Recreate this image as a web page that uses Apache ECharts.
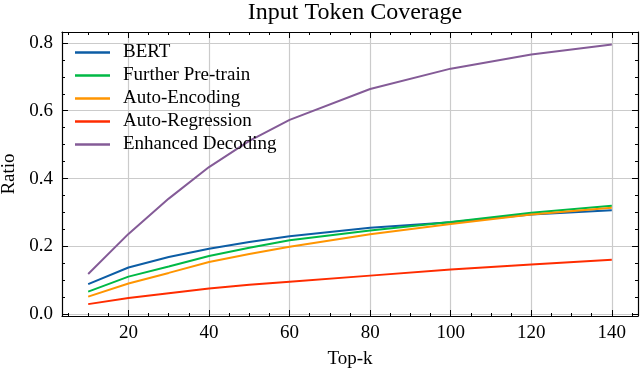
<!DOCTYPE html>
<html>
<head>
<meta charset="utf-8">
<script src="https://cdn.jsdelivr.net/npm/echarts@6/dist/echarts.min.js"></script>
<style>
  html, body { margin: 0; padding: 0; background: #fff; }
  #chart { width: 640px; height: 370px; }
</style>
</head>
<body>
<div id="chart"></div>
<script>
// Top-k values where coverage was measured
const topK = [10, 20, 30, 40, 50, 60, 80, 100, 120, 140];

const bert = [0.089, 0.138, 0.169, 0.193, 0.213, 0.230, 0.255, 0.271, 0.294, 0.307];
const furtherPretrain = [0.067, 0.111, 0.141, 0.172, 0.196, 0.218, 0.247, 0.272, 0.299, 0.320];
const autoEncoding = [0.052, 0.091, 0.122, 0.154, 0.178, 0.199, 0.236, 0.266, 0.294, 0.314];
const autoRegression = [0.030, 0.048, 0.062, 0.076, 0.087, 0.096, 0.114, 0.132, 0.147, 0.161];
const enhancedDecoding = [0.119, 0.237, 0.341, 0.434, 0.511, 0.573, 0.664, 0.724, 0.766, 0.795];

const xMajor = [20, 40, 60, 80, 100, 120, 140];
const xMinor = [5, 10, 15, 20, 25, 30, 35, 40, 45, 50, 55, 60, 65, 70, 75, 80, 85, 90, 95, 100, 105, 110, 115, 120, 125, 130, 135, 140, 145];
const yMajor = [0, 0.2, 0.4, 0.6, 0.8];
const yMinor = [0, 0.05, 0.1, 0.15, 0.2, 0.25, 0.3, 0.35, 0.4, 0.45, 0.5, 0.55, 0.6, 0.65, 0.7, 0.75, 0.8];

const FONT = "Liberation Serif";
const X_MIN = 3.5, X_MAX = 146.5;
const Y_MIN = -0.005, Y_MAX = 0.832;

function tickAxis(pos, min, max, vals, len, withLine) {
  return {
    type: "value",
    position: pos,
    min: min,
    max: max,
    axisLine: { show: withLine, onZero: false, lineStyle: { color: "#000", width: 1.2 } },
    axisTick: { show: true, inside: true, length: len, customValues: vals, lineStyle: { color: "#000", width: 1 } },
    axisLabel: { show: false },
    splitLine: { show: false },
  };
}

const xMain = tickAxis("bottom", X_MIN, X_MAX, xMajor, 6, true);
xMain.axisLabel = {
  show: true, customValues: xMajor, margin: 8,
  fontFamily: FONT, fontSize: 19, color: "#000",
};
xMain.splitLine = { show: true, lineStyle: { color: "#cbcbcb", width: 1.2 } };
xMain.name = "Top-k";
xMain.nameLocation = "middle";
xMain.nameGap = 34;
xMain.nameTextStyle = { fontFamily: FONT, fontSize: 19, color: "#000" };

const yMain = tickAxis("left", Y_MIN, Y_MAX, yMajor, 6, true);
yMain.axisLabel = {
  show: true, customValues: yMajor, margin: 9,
  fontFamily: FONT, fontSize: 19, color: "#000",
  formatter: (v) => v.toFixed(1),
};
yMain.splitLine = { show: true, lineStyle: { color: "#cbcbcb", width: 1.2 } };
yMain.name = "Ratio";
yMain.nameLocation = "middle";
yMain.nameGap = 42;
yMain.nameTextStyle = { fontFamily: FONT, fontSize: 19, color: "#000" };

const chart = echarts.init(document.getElementById("chart"));

function line(name, data, color) {
  return {
    name: name,
    type: "line",
    data: topK.map((k, i) => [k, data[i]]),
    showSymbol: false,
    symbol: "none",
    lineStyle: { width: 2, color: color },
    itemStyle: { color: color },
  };
}

chart.setOption({
  animation: false,
  title: {
    text: "Input Token Coverage",
    left: 350,
    top: -4,
    textAlign: "center",
    textStyle: { fontFamily: FONT, fontSize: 24, fontWeight: "normal", color: "#000" },
  },
  legend: {
    orient: "vertical",
    left: 70,
    top: 36,
    itemGap: 0,
    itemWidth: 35,
    itemHeight: 2.5,
    icon: "rect",
    textStyle: { fontFamily: FONT, fontSize: 19, lineHeight: 23, color: "#000", padding: [0, 0, 0, 8] },
  },
  grid: { left: 62, right: 2, top: 32, bottom: 54, outerBoundsMode: "none" },
  xAxis: [
    xMain,
    tickAxis("bottom", X_MIN, X_MAX, xMinor, 3, false),
    tickAxis("top", X_MIN, X_MAX, xMajor, 6, true),
    tickAxis("top", X_MIN, X_MAX, xMinor, 3, false),
  ],
  yAxis: [
    yMain,
    tickAxis("left", Y_MIN, Y_MAX, yMinor, 3, false),
    tickAxis("right", Y_MIN, Y_MAX, yMajor, 6, true),
    tickAxis("right", Y_MIN, Y_MAX, yMinor, 3, false),
  ],
  series: [
    line("BERT", bert, "#0C5DA5"),
    line("Further Pre-train", furtherPretrain, "#00B945"),
    line("Auto-Encoding", autoEncoding, "#FF9500"),
    line("Auto-Regression", autoRegression, "#FF2C00"),
    line("Enhanced Decoding", enhancedDecoding, "#845B97"),
  ],
});
</script>
</body>
</html>
